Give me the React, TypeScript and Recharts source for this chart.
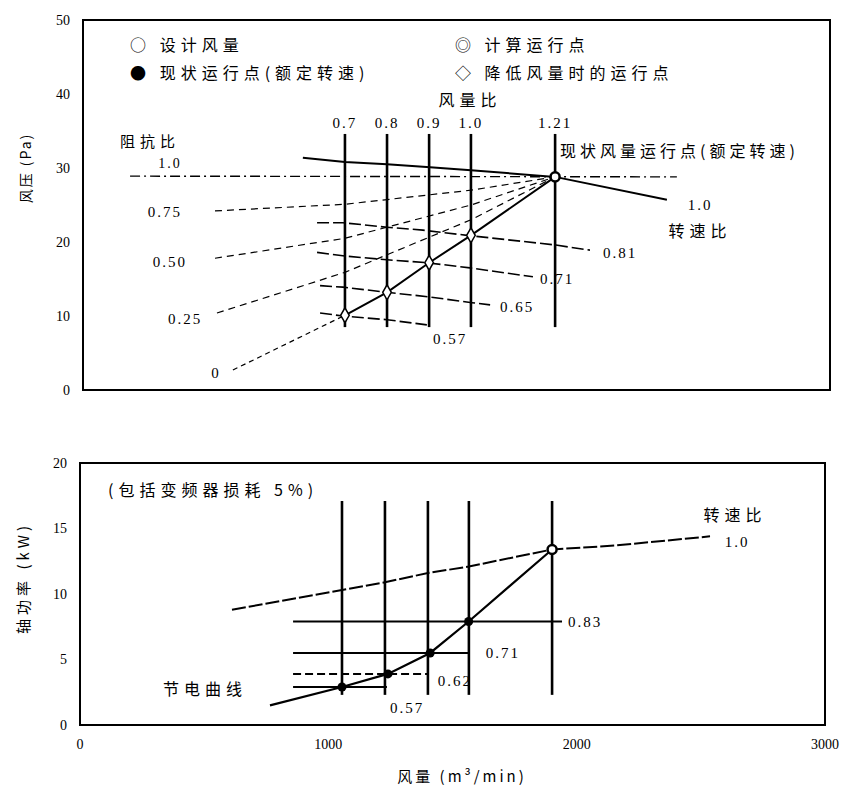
import React from 'react';
import { ComposedChart, Line, XAxis, YAxis, ReferenceArea, ReferenceDot, Scatter } from 'recharts';

// ---------- axes ----------
const flowTicks = [0, 1000, 2000, 3000];
const pressureTicks = [0, 10, 20, 30, 40, 50];
const powerTicks = [0, 5, 10, 15, 20];

// ---------- top chart (pressure vs flow) ----------
const flowRatioLabels = ['0.7', '0.8', '0.9', '1.0', '1.21'];
const topFlowLinesQ = [1052, 1221, 1390, 1558, 1896];
const topFlowLineRange = [8.5, 34.6];

const fanRatedQ = [883, 1052, 1221, 1394, 1558, 1896, 2345];
const fanRatedP = [31.4, 30.8, 30.5, 30.1, 29.7, 28.8, 25.7];
const fan081Q = [940, 1044, 1221, 1365, 1542, 1896, 2036];
const fan081P = [22.6, 22.6, 22.0, 21.6, 20.9, 19.6, 18.9];
const fan071Q = [940, 1052, 1221, 1381, 1554, 1807];
const fan071P = [18.6, 18.1, 17.6, 17.2, 16.5, 15.3];
const fan065Q = [952, 1044, 1221, 1386, 1562, 1635];
const fan065P = [14.1, 13.9, 13.2, 12.6, 11.8, 11.5];
const fan057Q = [952, 1044, 1221, 1381];
const fan057P = [10.4, 10.0, 9.5, 8.8];

const systemQ = [1052, 1221, 1390, 1558, 1896];
const systemP = [10.1, 13.2, 17.2, 20.9, 28.8];
const systemExtQ = [602, 1052];
const systemExtP = [2.7, 10.1];

const res100Q = [189, 2385];
const res100P = [28.9, 28.8];
const res075Q = [530, 1052, 1558, 1896];
const res075P = [24.2, 25.1, 27.0, 28.8];
const res050Q = [530, 1052, 1558, 1896];
const res050P = [17.8, 20.5, 25.0, 28.8];
const res025Q = [538, 1052, 1558, 1896];
const res025P = [10.4, 15.9, 23.0, 28.8];

const reducedPointsQ = [1052, 1221, 1390, 1558];
const reducedPointsP = [10.1, 13.2, 17.2, 20.9];
const currentPointQ = [1896];
const currentPointP = [28.8];

// ---------- bottom chart (power vs flow) ----------
const botFlowLinesQ = [1055, 1228, 1401, 1566, 1901];
const botFlowLineRange = [2.3, 17.1];
const powerRatedQ = [612, 1055, 1228, 1401, 1566, 1901, 2154, 2537];
const powerRatedP = [8.8, 10.3, 10.9, 11.6, 12.1, 13.4, 13.7, 14.4];
const powerLevelLabels = ['0.83', '0.71', '0.62', '0.57'];
const powerLevelP = [7.9, 5.5, 3.9, 2.9];
const powerLevelStartQ = [858, 858, 858, 858];
const powerLevelEndQ = [1941, 1570, 1401, 1236];
const savingQ = [765, 1055, 1240, 1410, 1565, 1901];
const savingP = [1.5, 2.9, 3.9, 5.5, 7.9, 13.4];
const botCurrentQ = [1901];
const botCurrentP = [13.4];

// ---------- helpers ----------
const pts = (qs: number[], ps: number[]) => qs.map((x, i) => ({ x, y: ps[i] }));
const CJK = '"Noto Sans CJK SC", sans-serif';
const NUM = '"Liberation Serif", serif';

type Note = { t: string; q: number; p: number; a?: string; s?: number; f?: string; ls?: number };

const topNotes: Note[] = [
  { t: '○ 设计风量', q: 189, p: 46.6, a: 'right', f: CJK, s: 16, ls: 5 },
  { t: '● 现状运行点(额定转速)', q: 189, p: 42.8, a: 'right', f: CJK, s: 16, ls: 5 },
  { t: '◎ 计算运行点', q: 1494, p: 46.6, a: 'right', f: CJK, s: 16, ls: 5 },
  { t: '◇ 降低风量时的运行点', q: 1494, p: 42.8, a: 'right', f: CJK, s: 16, ls: 5 },
  { t: '风量比', q: 1554, p: 39.2, f: CJK, s: 16, ls: 5 },
  ...flowRatioLabels.map((t, i) => ({ t, q: topFlowLinesQ[i], p: 36.1, f: NUM, s: 15, ls: 2 })),
  { t: '阻抗比', q: 269, p: 33.5, f: CJK, s: 15, ls: 5 },
  { t: '1.0', q: 349, p: 30.7, f: NUM, s: 14, ls: 2 },
  { t: '0.75', q: 329, p: 24.1, f: NUM, s: 15, ls: 2 },
  { t: '0.50', q: 349, p: 17.4, f: NUM, s: 15, ls: 2 },
  { t: '0.25', q: 410, p: 9.7, f: NUM, s: 15, ls: 2 },
  { t: '0', q: 530, p: 2.3, f: NUM, s: 15 },
  { t: '现状风量运行点(额定转速)', q: 1916, p: 32.2, a: 'right', f: CJK, s: 16, ls: 4 },
  { t: '1.0', q: 2478, p: 25.0, f: NUM, s: 15, ls: 2 },
  { t: '转速比', q: 2478, p: 21.4, f: CJK, s: 16, ls: 5 },
  { t: '0.81', q: 2157, p: 18.6, f: NUM, s: 15, ls: 2 },
  { t: '0.71', q: 1904, p: 15.1, f: NUM, s: 15, ls: 2 },
  { t: '0.65', q: 1743, p: 11.2, f: NUM, s: 15, ls: 2 },
  { t: '0.57', q: 1474, p: 7.0, f: NUM, s: 15, ls: 2 },
];

const botNotes: Note[] = [
  { t: '(包括变频器损耗 5%)', q: 113, p: 17.9, a: 'right', f: CJK, s: 16, ls: 5 },
  { t: '转速比', q: 2638, p: 16.0, f: CJK, s: 16, ls: 5 },
  { t: '1.0', q: 2646, p: 14.0, f: NUM, s: 15, ls: 2 },
  ...powerLevelLabels.map((t, i) => ({
    t,
    q: [2034, 1703, 1510, 1317][i],
    p: [7.9, 5.5, 3.4, 1.3][i],
    f: NUM,
    s: 15,
    ls: 2,
  })),
  { t: '节电曲线', q: 503, p: 2.7, f: CJK, s: 16, ls: 5 },
];

const renderNote = (n: Note, key: string) => (
  <ReferenceDot
    key={key}
    x={n.q}
    y={n.p}
    r={0}
    fill="none"
    stroke="none"
    ifOverflow="visible"
    label={{
      value: n.t,
      position: (n.a || 'center') as any,
      offset: 0,
      fill: '#000',
      fontSize: n.s || 15,
      fontFamily: n.f || NUM,
      style: { letterSpacing: n.ls || 0 },
    }}
  />
);

const seg = (key: string, data: { x: number; y: number }[], w: number, dash?: string) => (
  <Line
    key={key}
    data={data}
    dataKey="y"
    type="linear"
    stroke="#000"
    strokeWidth={w}
    strokeDasharray={dash}
    dot={false}
    activeDot={false}
    isAnimationActive={false}
    legendType="none"
  />
);

const tickStyle = { fill: '#000', fontSize: 14, fontFamily: NUM };

export default function App() {
  return (
    <div style={{ position: 'absolute', left: 0, top: 0, width: 848, height: 785, background: '#fff' }}>
      {/* axis titles */}
      <div
        style={{
          position: 'absolute', left: 25, top: 168, transform: 'translate(-50%, -50%) rotate(-90deg)',
          whiteSpace: 'nowrap', fontFamily: CJK, fontSize: 14, letterSpacing: 2,
        }}
      >
        风压 (Pa)
      </div>
      <div
        style={{
          position: 'absolute', left: 22, top: 578, transform: 'translate(-50%, -50%) rotate(-90deg)',
          whiteSpace: 'nowrap', fontFamily: CJK, fontSize: 15, letterSpacing: 4,
        }}
      >
        轴功率 (kW)
      </div>
      <div
        style={{
          position: 'absolute', left: 462, top: 775, transform: 'translate(-50%, -50%)',
          whiteSpace: 'nowrap', fontFamily: CJK, fontSize: 15, letterSpacing: 3,
        }}
      >
        风量 (m³/min)
      </div>

      {/* top chart */}
      <div style={{ position: 'absolute', left: 0, top: 0 }}>
        <ComposedChart width={848} height={400} margin={{ top: 20, right: 18, bottom: 10, left: 23 }}>
          <XAxis type="number" dataKey="x" domain={[0, 3000]} ticks={flowTicks} hide allowDataOverflow />
          <YAxis
            type="number"
            domain={[0, 50]}
            ticks={pressureTicks}
            width={60}
            axisLine={false}
            tickLine={false}
            tickSize={0}
            tickMargin={13}
            tick={tickStyle}
            allowDataOverflow
          />
          <ReferenceArea x1={0} x2={3000} y1={0} y2={50} fill="none" stroke="#000" strokeWidth={2} ifOverflow="visible" />
          {seg('r100', pts(res100Q, res100P), 1.4, '10 4 2 4')}
          {seg('r075', pts(res075Q, res075P), 1.2, '7 5')}
          {seg('r050', pts(res050Q, res050P), 1.2, '7 5')}
          {seg('r025', pts(res025Q, res025P), 1.2, '7 5')}
          {seg('sysx', pts(systemExtQ, systemExtP), 1.2, '5 4')}
          {topFlowLinesQ.map((q, i) =>
            seg('tv' + i, pts([q, q], topFlowLineRange), 2.6)
          )}
          {seg('fr', pts(fanRatedQ, fanRatedP), 2)}
          {seg('f81', pts(fan081Q, fan081P), 1.6, '12 4')}
          {seg('f71', pts(fan071Q, fan071P), 1.6, '12 4')}
          {seg('f65', pts(fan065Q, fan065P), 1.6, '12 4')}
          {seg('f57', pts(fan057Q, fan057P), 1.6, '12 4')}
          {seg('sys', pts(systemQ, systemP), 2)}
          <Scatter
            data={pts(reducedPointsQ, reducedPointsP)}
            dataKey="y"
            shape="diamond"
            fill="#fff"
            stroke="#000"
            strokeWidth={1.5}
            isAnimationActive={false}
            legendType="none"
          />
          <Scatter
            data={pts(currentPointQ, currentPointP)}
            dataKey="y"
            shape="circle"
            fill="#fff"
            stroke="#000"
            strokeWidth={2.5}
            isAnimationActive={false}
            legendType="none"
          />
          {topNotes.map((n, i) => renderNote(n, 'tn' + i))}
        </ComposedChart>
      </div>

      {/* bottom chart */}
      <div style={{ position: 'absolute', left: 0, top: 440 }}>
        <ComposedChart width={848} height={345} margin={{ top: 23, right: 23, bottom: 10, left: 20 }}>
          <XAxis
            type="number"
            dataKey="x"
            domain={[0, 3000]}
            ticks={flowTicks}
            height={50}
            axisLine={false}
            tickLine={false}
            tickSize={0}
            tickMargin={14}
            tick={tickStyle}
            allowDataOverflow
          />
          <YAxis
            type="number"
            domain={[0, 20]}
            ticks={powerTicks}
            width={60}
            axisLine={false}
            tickLine={false}
            tickSize={0}
            tickMargin={13}
            tick={tickStyle}
            allowDataOverflow
          />
          <ReferenceArea x1={0} x2={3000} y1={0} y2={20} fill="none" stroke="#000" strokeWidth={2} ifOverflow="visible" />
          {botFlowLinesQ.map((q, i) => seg('bv' + i, pts([q, q], botFlowLineRange), 2.6))}
          {powerLevelP.map((p, i) =>
            seg('pl' + i, pts([powerLevelStartQ[i], powerLevelEndQ[i]], [p, p]), 2, i === 2 ? '8 4' : undefined)
          )}
          {seg('pr', pts(powerRatedQ, powerRatedP), 2, '14 3')}
          {seg('sv', pts(savingQ, savingP), 2.2)}
          <Scatter
            data={pts(savingQ.slice(1, 5), savingP.slice(1, 5))}
            dataKey="y"
            shape="circle"
            fill="#000"
            isAnimationActive={false}
            legendType="none"
          />
          <Scatter
            data={pts(botCurrentQ, botCurrentP)}
            dataKey="y"
            shape="circle"
            fill="#fff"
            stroke="#000"
            strokeWidth={2.5}
            isAnimationActive={false}
            legendType="none"
          />
          {botNotes.map((n, i) => renderNote(n, 'bn' + i))}
        </ComposedChart>
      </div>
    </div>
  );
}
